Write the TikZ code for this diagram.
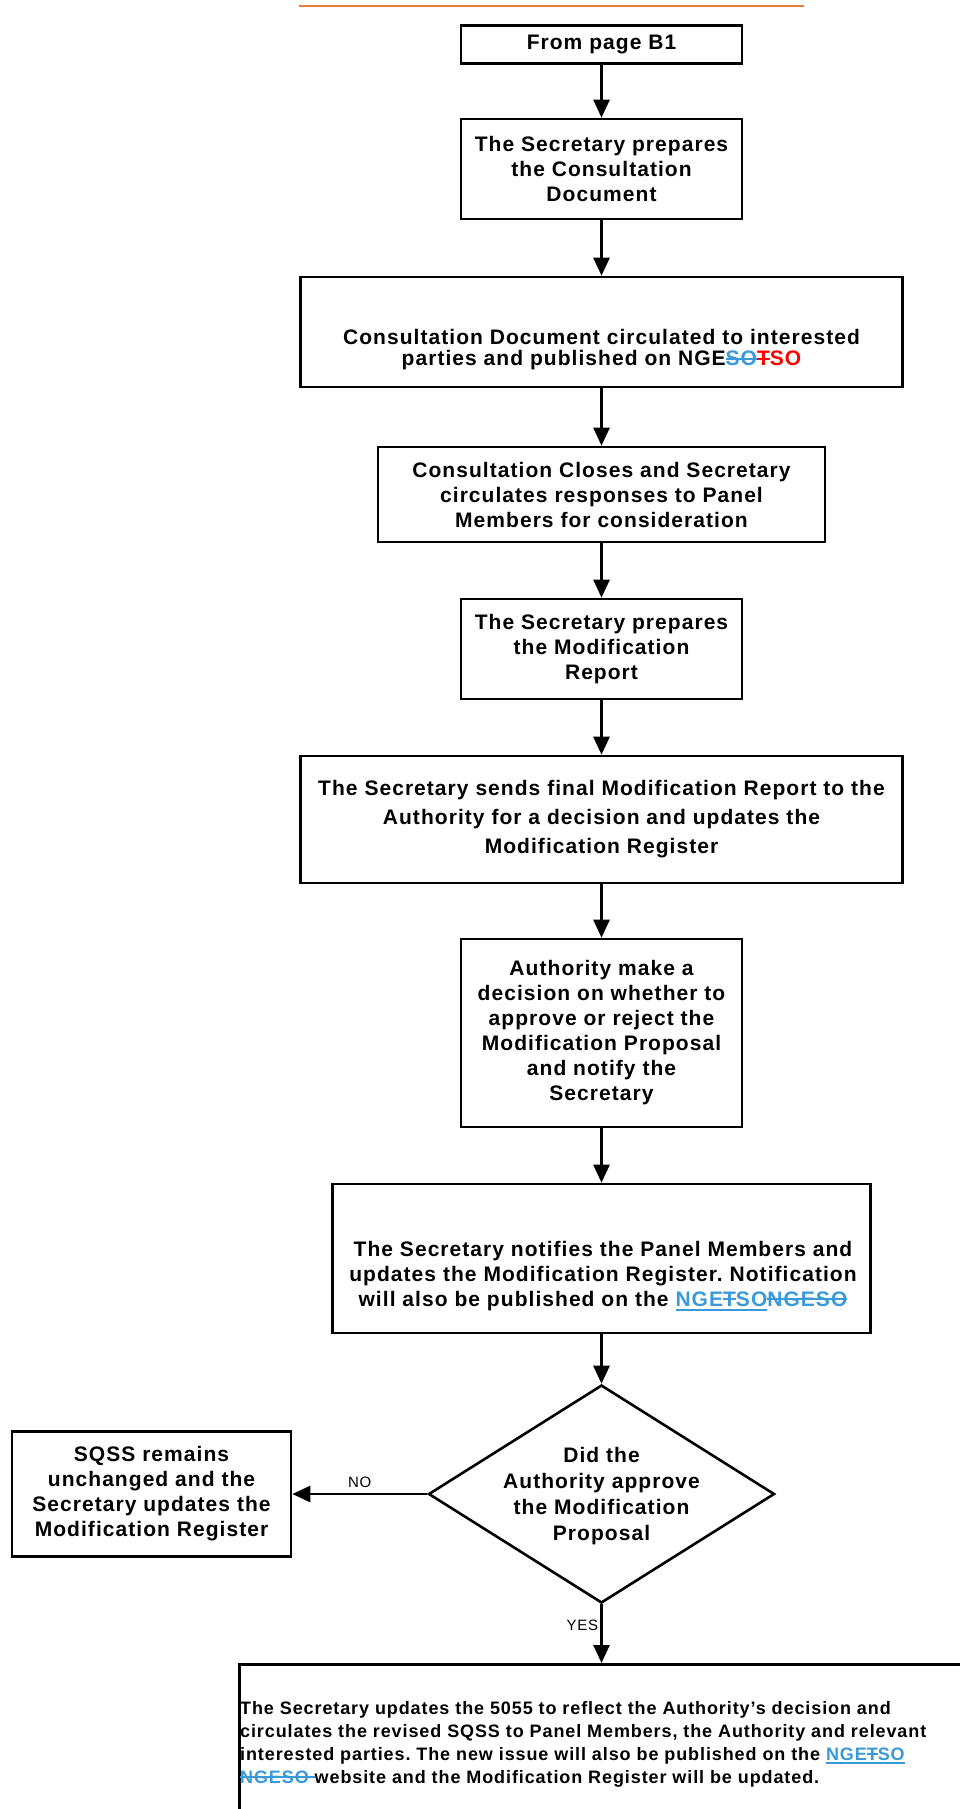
\documentclass[tikz,border=0pt]{standalone}
\usepackage{fontspec}
\setmainfont{Liberation Sans}[LetterSpace=5]
\usetikzlibrary{arrows.meta}
\usetikzlibrary{shapes.geometric}
\definecolor{lb}{HTML}{3A9AD9}
\definecolor{orng}{HTML}{ED7D31}
\newcommand{\struck}[1]{\setbox0\hbox{#1}\rlap{\rule[0.3em]{\wd0}{0.08em}}\box0}
\newcommand{\undl}[1]{\setbox0\hbox{#1}\rlap{\rule[-0.22em]{\wd0}{0.1em}}\box0}
\frenchspacing

\begin{document}
\begin{tikzpicture}[x=1pt,y=-1pt,
  box/.style={draw,line width=2.6pt,align=center,inner sep=0pt,font=\bfseries\fontsize{21}{25}\selectfont},
  txt/.style={align=center,inner sep=0pt,font=\bfseries\fontsize{21}{25}\selectfont},
  flow/.style={line width=2.6pt,-{Triangle[width=16pt,length=18pt]}},
  lbl/.style={inner sep=2pt,font=\fontsize{15}{17}\selectfont}]
\useasboundingbox (0,0) rectangle (960,1809);
\clip (0,0) rectangle (960,1809);
\draw[orng,line width=2pt] (299,6) -- (804,6);
% main column
\node[box,minimum width=281,minimum height=38] (b1) at (601.5,44.5) {From page B1};
\node[box,minimum width=281,minimum height=100] (b2) at (601.5,169) {The Secretary prepares\\the Consultation\\Document};
\node[box,minimum width=602,minimum height=110] (b3) at (601.5,332) {};
\node[txt,font=\bfseries\fontsize{21}{21}\selectfont] (t3) at (601.5,350) {Consultation Document circulated to interested\\parties and published on NGE{\color{lb}\struck{SO}}{\color{red}\struck{T}SO}};
\node[box,minimum width=447,minimum height=95] (b4) at (601.5,494.5) {Consultation Closes and Secretary\\circulates responses to Panel\\Members for consideration};
\node[box,minimum width=281,minimum height=100] (b5) at (601.5,649) {The Secretary prepares\\the Modification\\Report};
\node[box,minimum width=602,minimum height=127,font=\bfseries\fontsize{21}{29}\selectfont] (b6) at (601.5,819.5) {The Secretary sends final Modification Report to the\\Authority for a decision and updates the\\Modification Register};
\node[box,minimum width=281,minimum height=188] (b7) at (601.5,1033) {Authority make a\\decision on whether to\\approve or reject the\\Modification Proposal\\and notify the\\Secretary};
\node[box,minimum width=538,minimum height=149] (b8) at (601.5,1258.5) {};
\node[txt] (t8) at (603,1276) {The Secretary notifies the Panel Members and\\updates the Modification Register. Notification\\will also be published on the {\color{lb}\undl{NGE\struck{T}SO}\struck{NGESO}}};
% decision
\node[diamond,draw,line width=2.6pt,inner sep=0pt,minimum width=346,minimum height=218] (dec) at (601.5,1494) {};
\node[txt,font=\bfseries\fontsize{21}{26}\selectfont] (td) at (601.5,1496) {Did the\\Authority approve\\the Modification\\Proposal};
\node[box,minimum width=279,minimum height=125] (no) at (151.5,1494) {SQSS remains\\unchanged and the\\Secretary updates the\\Modification Register};
\node[box,anchor=north west,minimum width=900,minimum height=300] (upd) at (238,1663) {};
\node[txt,anchor=west,align=left,font=\bfseries\fontsize{18}{23}\selectfont] (tu) at (240,1744) {The Secretary updates the 5055 to reflect the Authority's decision and\\circulates the revised SQSS to Panel Members, the Authority and relevant\\interested parties. The new issue will also be published on the {\color{lb}\undl{NGE\struck{T}SO}}\\{\color{lb}\struck{NGESO }}website and the Modification Register will be updated.};
% connectors
\draw[flow] (b1) -- (b2);
\draw[flow] (b2) -- (b3);
\draw[flow] (b3) -- (b4);
\draw[flow] (b4) -- (b5);
\draw[flow] (b5) -- (b6);
\draw[flow] (b6) -- (b7);
\draw[flow] (b7) -- (b8);
\draw[flow] (b8) -- (dec);
\draw[flow] (dec.west) -- node[lbl,above=3pt] (lno) {NO} (no.east);
\draw[flow] (dec.south) -- node[lbl,left,pos=0.35] (lyes) {YES} (dec.south |- upd.north);
\end{tikzpicture}
\end{document}
